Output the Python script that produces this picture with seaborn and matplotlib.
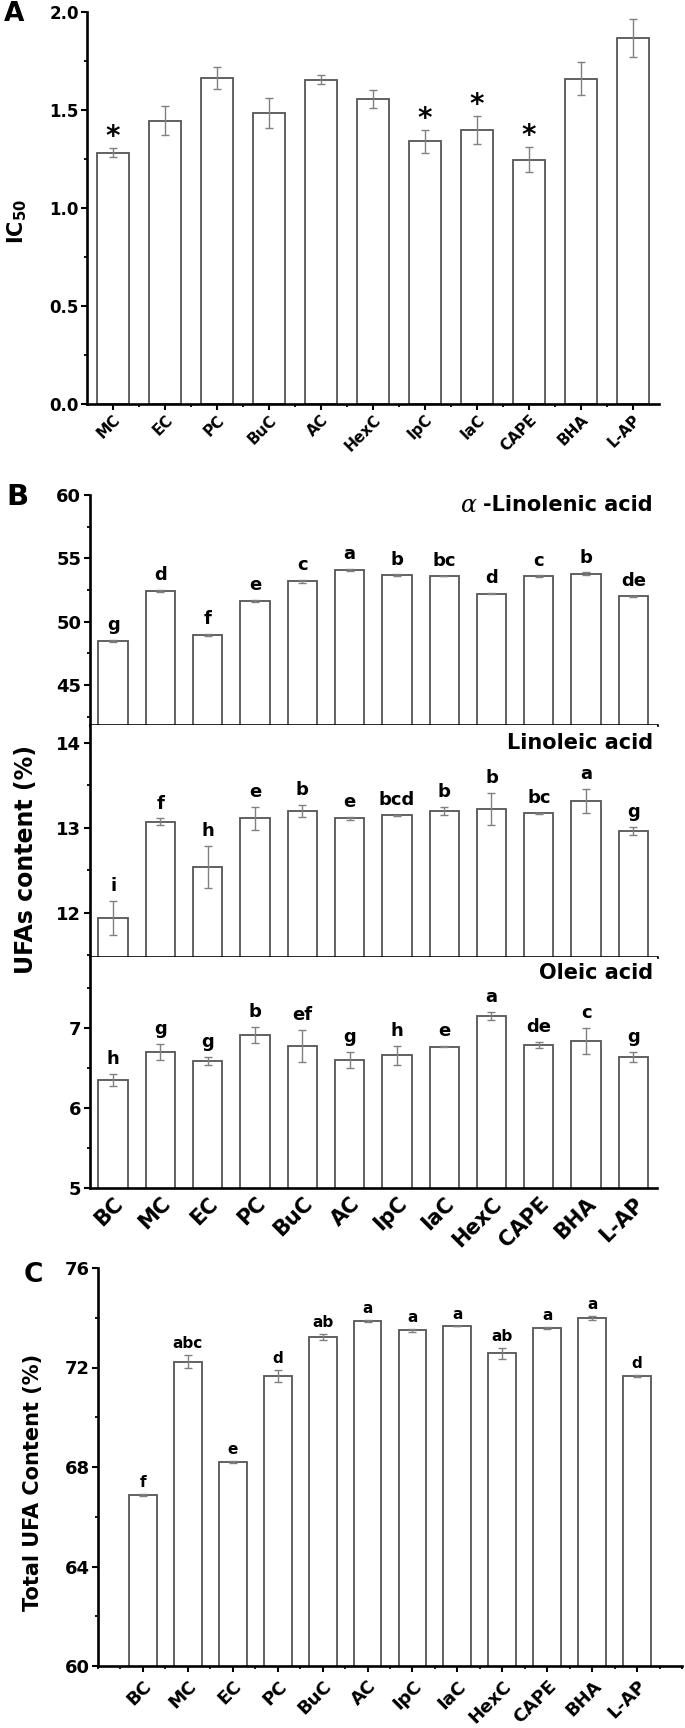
import numpy as np
import matplotlib
matplotlib.use("Agg")
import matplotlib.pyplot as plt
import seaborn as sns
from matplotlib.ticker import FixedLocator, MultipleLocator

# ---------------- data ----------------
cats_A = ["MC", "EC", "PC", "BuC", "AC", "HexC", "IpC", "IaC", "CAPE", "BHA", "L-AP"]
ic50 = [1.283, 1.445, 1.662, 1.483, 1.655, 1.556, 1.340, 1.398, 1.247, 1.659, 1.867]
ic50_err = [0.025, 0.075, 0.055, 0.077, 0.024, 0.047, 0.060, 0.072, 0.065, 0.084, 0.095]
ic50_sig = ["*", "", "", "", "", "", "*", "*", "*", "", ""]

cats_B = ["BC", "MC", "EC", "PC", "BuC", "AC", "IpC", "IaC", "HexC", "CAPE", "BHA", "L-AP"]
linolenic = [48.5, 52.45, 48.95, 51.65, 53.2, 54.1, 53.65, 53.6, 52.2, 53.6, 53.8, 52.0]
linolenic_err = [0.08, 0.08, 0.08, 0.08, 0.12, 0.08, 0.08, 0.03, 0.05, 0.05, 0.10, 0.06]
linolenic_lbl = ["g", "d", "f", "e", "c", "a", "b", "bc", "d", "c", "b", "de"]

linoleic = [11.94, 13.07, 12.54, 13.11, 13.20, 13.11, 13.15, 13.20, 13.22, 13.17, 13.32, 12.96]
linoleic_err = [0.20, 0.04, 0.25, 0.14, 0.07, 0.02, 0.005, 0.05, 0.19, 0.01, 0.14, 0.05]
linoleic_lbl = ["i", "f", "h", "e", "b", "e", "bcd", "b", "b", "bc", "a", "g"]

oleic = [6.35, 6.70, 6.59, 6.92, 6.78, 6.60, 6.66, 6.77, 7.15, 6.79, 6.84, 6.64]
oleic_err = [0.08, 0.10, 0.05, 0.10, 0.20, 0.10, 0.12, 0.01, 0.05, 0.04, 0.16, 0.06]
oleic_lbl = ["h", "g", "g", "b", "ef", "g", "h", "e", "a", "de", "c", "g"]

total = [66.86, 72.24, 68.20, 71.66, 73.22, 73.87, 73.49, 73.67, 72.57, 73.59, 73.99, 71.66]
total_err = [0.04, 0.27, 0.04, 0.25, 0.12, 0.04, 0.06, 0.01, 0.23, 0.03, 0.10, 0.03]
total_lbl = ["f", "abc", "e", "d", "ab", "a", "a", "a", "ab", "a", "a", "d"]

# ---------------- style ----------------
sns.set_theme(style="ticks")
plt.rcParams["font.family"] = ["DejaVu Sans"]
plt.rcParams["font.weight"] = "bold"
plt.rcParams["axes.labelweight"] = "bold"
plt.rcParams["mathtext.fontset"] = "dejavusans"
for key in ["text.color", "axes.labelcolor", "xtick.color", "ytick.color", "axes.edgecolor"]:
    plt.rcParams[key] = "black"

EDGE = "#555555"
ERR = "#808080"
SPINE_W = 1.9

W, H = 685, 1728
fig = plt.figure(figsize=(W / 100, H / 100), dpi=100)


def rect(left, right, top, bottom):
    return [left / W, 1 - bottom / H, (right - left) / W, (bottom - top) / H]


def bars(ax, cats, vals, errs, width=0.62):
    sns.barplot(x=cats, y=vals, order=cats, color="white", edgecolor=EDGE,
                linewidth=1.3, width=width, saturation=1, errorbar=None, ax=ax)
    ax.errorbar(np.arange(len(cats)), vals, yerr=errs, fmt="none", ecolor=ERR,
                elinewidth=1.0, capsize=3, capthick=1.0, zorder=3)


def letters(ax, vals, errs, lbls, size, off):
    for i, (v, e, t) in enumerate(zip(vals, errs, lbls)):
        if t:
            ax.annotate(t, (i, v + e), xytext=(0, off), textcoords="offset points",
                        ha="center", va="baseline", fontsize=size, fontweight="bold",
                        color="black", annotation_clip=False)


def style_axes(ax):
    for s in ["top", "right"]:
        ax.spines[s].set_visible(False)
    for s in ["left", "bottom"]:
        ax.spines[s].set_linewidth(SPINE_W)
        ax.spines[s].set_color("black")
    ax.set_xlabel("")
    ax.set_ylabel("")


# ---------------- Panel A ----------------
axA = fig.add_axes(rect(87, 659, 12, 404))
bars(axA, cats_A, ic50, ic50_err)
letters(axA, ic50, ic50_err, ic50_sig, 20, 2)
style_axes(axA)
axA.set_xlim(-0.5, 10.5)
axA.set_ylim(0, 2.0)
axA.yaxis.set_major_locator(MultipleLocator(0.5))
axA.yaxis.set_minor_locator(MultipleLocator(0.25))
axA.set_yticklabels([f"{v:.1f}" for v in axA.get_yticks()])
axA.xaxis.set_major_locator(FixedLocator(np.arange(len(cats_A))))
axA.xaxis.set_minor_locator(FixedLocator(np.arange(0.5, len(cats_A) - 1, 1)))
axA.set_xticklabels(cats_A, rotation=45, ha="right", rotation_mode="anchor")
axA.tick_params(axis="both", which="major", direction="out", length=4, width=1.5,
                labelsize=12, pad=2)
axA.tick_params(axis="both", which="minor", direction="out", length=2.5, width=1.3)
axA.tick_params(axis="x", labelsize=11)
for t in axA.get_xticklabels() + axA.get_yticklabels():
    t.set_fontweight("bold")

# ---------------- Panel B ----------------
b_specs = [
    (linolenic, linolenic_err, linolenic_lbl, 495, 725, (41.85, 60), 5, 2.5),
    (linoleic, linoleic_err, linoleic_lbl, 725, 957, (11.48, 14.21), 1, 0.5),
    (oleic, oleic_err, oleic_lbl, 957, 1188, (5, 7.89), 1, 0.5),
]
for k, (vals, errs, lbls, top, bot, ylim, maj, mnr) in enumerate(b_specs):
    ax = fig.add_axes(rect(89.5, 657, top, bot))
    bars(ax, cats_B, vals, errs)
    letters(ax, vals, errs, lbls, 13, 7)
    style_axes(ax)
    ax.set_xlim(-0.5, 11.5)
    ax.set_ylim(*ylim)
    ax.yaxis.set_major_locator(MultipleLocator(maj))
    ax.yaxis.set_minor_locator(MultipleLocator(mnr))
    ax.set_yticklabels([f"{v:g}" for v in ax.get_yticks()])
    ax.xaxis.set_major_locator(FixedLocator(np.arange(len(cats_B))))
    ax.xaxis.set_minor_locator(FixedLocator(np.arange(1, len(cats_B), 2)))
    ax.tick_params(axis="y", which="major", direction="out", length=4, width=1.5,
                   labelsize=13, pad=2)
    ax.tick_params(axis="y", which="minor", direction="out", length=2.5, width=1.3)
    ax.tick_params(axis="x", which="major", length=0, pad=4)
    ax.tick_params(axis="x", which="minor", direction="in", length=4, width=1.5)
    if k < 2:
        ax.tick_params(axis="x", which="both", labelbottom=False)
    else:
        ax.set_xticklabels(cats_B, rotation=45, ha="right", rotation_mode="anchor")
        ax.tick_params(axis="x", labelsize=15)
    for t in ax.get_xticklabels() + ax.get_yticklabels():
        t.set_fontweight("bold")

t1 = fig.text(653 / W, 1 - 505 / H, "-Linolenic acid", ha="right", va="center",
              fontsize=15, fontweight="bold")
fig.text(653 / W, 1 - 743 / H, "Linoleic acid", ha="right", va="center",
         fontsize=15, fontweight="bold")
fig.text(653 / W, 1 - 973 / H, "Oleic acid", ha="right", va="center",
         fontsize=15, fontweight="bold")

# ---------------- Panel C ----------------
axC = fig.add_axes(rect(98, 682, 1268, 1666))
bars(axC, cats_B, total, total_err)
letters(axC, total, total_err, total_lbl, 11, 5)
style_axes(axC)
axC.set_xlim(-1, 12)
axC.set_ylim(60, 76)
axC.yaxis.set_major_locator(MultipleLocator(4))
axC.yaxis.set_minor_locator(MultipleLocator(2))
axC.set_yticklabels([f"{v:g}" for v in axC.get_yticks()])
axC.xaxis.set_major_locator(FixedLocator(np.arange(len(cats_B))))
axC.xaxis.set_minor_locator(FixedLocator(np.arange(-1, 12.01, 0.5)))
axC.set_xticklabels(cats_B, rotation=45, ha="right", rotation_mode="anchor")
axC.tick_params(axis="both", which="major", direction="out", length=4, width=1.5,
                labelsize=13, pad=2)
axC.tick_params(axis="both", which="minor", direction="out", length=2.5, width=1.3)
axC.tick_params(axis="x", labelsize=13, pad=4)
for t in axC.get_xticklabels() + axC.get_yticklabels():
    t.set_fontweight("bold")

# ---------------- labels ----------------
fig.text(17 / W, 1 - 222 / H, r"IC$_{\mathbf{50}}$", rotation=90, ha="center",
         va="center", fontsize=15, fontweight="bold")
fig.text(26 / W, 1 - 860 / H, "UFAs content (%)", rotation=90, ha="center",
         va="center", fontsize=17, fontweight="bold")
fig.text(33 / W, 1 - 1482 / H, "Total UFA Content (%)", rotation=90, ha="center",
         va="center", fontsize=15, fontweight="bold")

fig.text(14 / W, 1 - 14 / H, "A", ha="center", va="center", fontsize=19, fontweight="bold")
fig.text(17 / W, 1 - 497 / H, "B", ha="center", va="center", fontsize=21, fontweight="bold")
fig.text(33 / W, 1 - 1275 / H, "C", ha="center", va="center", fontsize=19, fontweight="bold")

# alpha in italic serif, placed just left of "-Linolenic acid"
fig.canvas.draw()
bb = t1.get_window_extent(renderer=fig.canvas.get_renderer())
x_alpha = (bb.x0 - 6) / W
fig.text(x_alpha, 1 - 505 / H, "\u03b1", ha="right", va="center", fontsize=17,
         family="DejaVu Serif", style="italic", fontweight="normal")

fig.savefig("out.png", dpi=100)
